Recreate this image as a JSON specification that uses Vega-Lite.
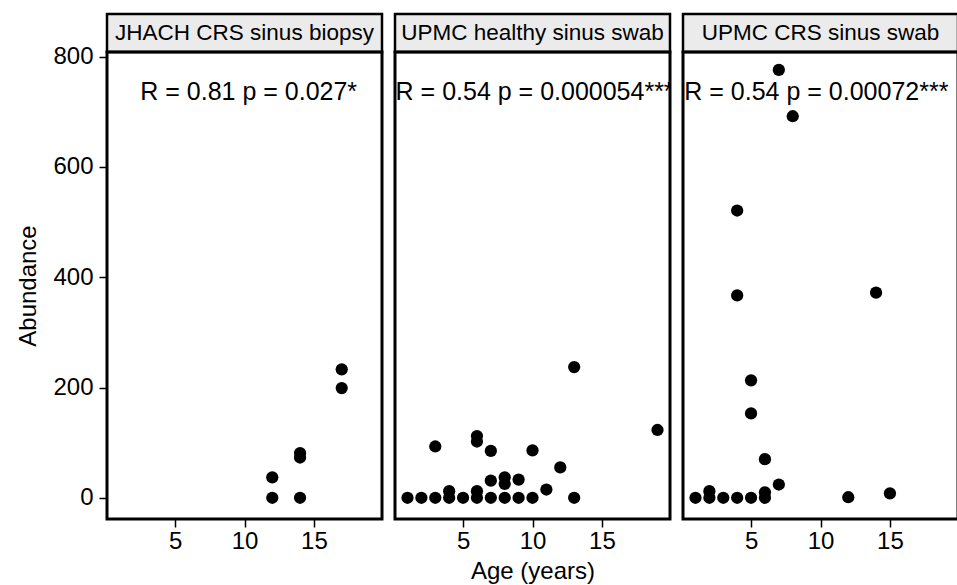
{
  "$schema": "https://vega.github.io/schema/vega-lite/v6.json",
  "autosize": {"type": "pad"},
  "padding": {"left": 15, "top": 12, "right": 0, "bottom": 0},
  "background": "white",
  "datasets": {
    "points": [
      {"panel": "JHACH CRS sinus biopsy", "age": 12, "abundance": 0},
      {"panel": "JHACH CRS sinus biopsy", "age": 12, "abundance": 37},
      {"panel": "JHACH CRS sinus biopsy", "age": 14, "abundance": 0},
      {"panel": "JHACH CRS sinus biopsy", "age": 14, "abundance": 73},
      {"panel": "JHACH CRS sinus biopsy", "age": 14, "abundance": 81},
      {"panel": "JHACH CRS sinus biopsy", "age": 17, "abundance": 199},
      {"panel": "JHACH CRS sinus biopsy", "age": 17, "abundance": 233},
      {"panel": "UPMC healthy sinus swab", "age": 1, "abundance": 0},
      {"panel": "UPMC healthy sinus swab", "age": 2, "abundance": 0},
      {"panel": "UPMC healthy sinus swab", "age": 3, "abundance": 0},
      {"panel": "UPMC healthy sinus swab", "age": 3, "abundance": 93},
      {"panel": "UPMC healthy sinus swab", "age": 4, "abundance": 0},
      {"panel": "UPMC healthy sinus swab", "age": 4, "abundance": 12},
      {"panel": "UPMC healthy sinus swab", "age": 5, "abundance": 0},
      {"panel": "UPMC healthy sinus swab", "age": 6, "abundance": 0},
      {"panel": "UPMC healthy sinus swab", "age": 6, "abundance": 12},
      {"panel": "UPMC healthy sinus swab", "age": 6, "abundance": 102},
      {"panel": "UPMC healthy sinus swab", "age": 6, "abundance": 112},
      {"panel": "UPMC healthy sinus swab", "age": 7, "abundance": 0},
      {"panel": "UPMC healthy sinus swab", "age": 7, "abundance": 31},
      {"panel": "UPMC healthy sinus swab", "age": 7, "abundance": 85},
      {"panel": "UPMC healthy sinus swab", "age": 8, "abundance": 0},
      {"panel": "UPMC healthy sinus swab", "age": 8, "abundance": 25},
      {"panel": "UPMC healthy sinus swab", "age": 8, "abundance": 37},
      {"panel": "UPMC healthy sinus swab", "age": 9, "abundance": 0},
      {"panel": "UPMC healthy sinus swab", "age": 9, "abundance": 33},
      {"panel": "UPMC healthy sinus swab", "age": 10, "abundance": 0},
      {"panel": "UPMC healthy sinus swab", "age": 10, "abundance": 86},
      {"panel": "UPMC healthy sinus swab", "age": 11, "abundance": 15},
      {"panel": "UPMC healthy sinus swab", "age": 12, "abundance": 55},
      {"panel": "UPMC healthy sinus swab", "age": 13, "abundance": 0},
      {"panel": "UPMC healthy sinus swab", "age": 13, "abundance": 237},
      {"panel": "UPMC healthy sinus swab", "age": 19, "abundance": 123},
      {"panel": "UPMC CRS sinus swab", "age": 1, "abundance": 0},
      {"panel": "UPMC CRS sinus swab", "age": 2, "abundance": 0},
      {"panel": "UPMC CRS sinus swab", "age": 2, "abundance": 12},
      {"panel": "UPMC CRS sinus swab", "age": 3, "abundance": 0},
      {"panel": "UPMC CRS sinus swab", "age": 4, "abundance": 0},
      {"panel": "UPMC CRS sinus swab", "age": 4, "abundance": 367},
      {"panel": "UPMC CRS sinus swab", "age": 4, "abundance": 521},
      {"panel": "UPMC CRS sinus swab", "age": 5, "abundance": 0},
      {"panel": "UPMC CRS sinus swab", "age": 5, "abundance": 153},
      {"panel": "UPMC CRS sinus swab", "age": 5, "abundance": 213},
      {"panel": "UPMC CRS sinus swab", "age": 6, "abundance": 0},
      {"panel": "UPMC CRS sinus swab", "age": 6, "abundance": 10},
      {"panel": "UPMC CRS sinus swab", "age": 6, "abundance": 70},
      {"panel": "UPMC CRS sinus swab", "age": 7, "abundance": 24},
      {"panel": "UPMC CRS sinus swab", "age": 7, "abundance": 776},
      {"panel": "UPMC CRS sinus swab", "age": 8, "abundance": 692},
      {"panel": "UPMC CRS sinus swab", "age": 12, "abundance": 1},
      {"panel": "UPMC CRS sinus swab", "age": 14, "abundance": 372},
      {"panel": "UPMC CRS sinus swab", "age": 15, "abundance": 8}
    ],
    "labels": [
      {"panel": "JHACH CRS sinus biopsy", "label": "R = 0.81 p = 0.027*", "x": 10.3, "y": 736},
      {"panel": "UPMC healthy sinus swab", "label": "R = 0.54 p = 0.000054***", "x": 10.15, "y": 736},
      {"panel": "UPMC CRS sinus swab", "label": "R = 0.54 p = 0.00072***", "x": 9.7, "y": 736}
    ]
  },
  "config": {
    "font": "Liberation Sans",
    "view": {"stroke": "black", "strokeWidth": 3},
    "axis": {
      "domain": false,
      "grid": false,
      "tickColor": "black",
      "tickSize": 8,
      "tickWidth": 1.5,
      "labelFont": "Liberation Sans",
      "labelFontSize": 24,
      "labelColor": "black",
      "titleFont": "Liberation Sans",
      "titleFontSize": 24,
      "titleFontWeight": "normal",
      "titleColor": "black"
    }
  },
  "spacing": 9,
  "hconcat": [
    {
      "bounds": "flush",
      "spacing": 0,
      "vconcat": [
        {
          "width": 275, "height": 38,
          "view": {"fill": "#ebebeb", "stroke": "black", "strokeWidth": 2.5},
          "data": {"name": "labels"},
          "transform": [{"filter": "datum.panel === 'JHACH CRS sinus biopsy'"}],
          "mark": {"type": "text", "fontSize": 22.5, "color": "black", "font": "Liberation Sans"},
          "encoding": {"text": {"field": "panel"}}
        },
        {
          "width": 275, "height": 467,
          "layer": [
            {
              "data": {"name": "points"},
              "transform": [{"filter": "datum.panel === 'JHACH CRS sinus biopsy'"}],
              "mark": {"type": "point", "filled": true, "size": 150, "color": "black", "opacity": 1},
              "encoding": {
                "x": {"field": "age", "type": "quantitative", "scale": {"domain": [0.1, 19.9], "nice": false, "zero": false},
                      "axis": {"values": [5, 10, 15], "title": null, "labelPadding": 2}},
                "y": {"field": "abundance", "type": "quantitative", "scale": {"domain": [-38.5, 808.5], "nice": false, "zero": false},
                      "axis": {"values": [0, 200, 400, 600, 800], "title": "Abundance", "labelPadding": 6, "titlePadding": 12}}
              }
            },
            {
              "data": {"name": "labels"},
              "transform": [{"filter": "datum.panel === 'JHACH CRS sinus biopsy'"}],
              "mark": {"type": "text", "fontSize": 25, "color": "black", "align": "center", "baseline": "middle", "clip": true},
              "encoding": {
                "x": {"field": "x", "type": "quantitative"},
                "y": {"field": "y", "type": "quantitative"},
                "text": {"field": "label"}
              }
            }
          ]
        }
      ]
    },
    {
      "bounds": "flush",
      "spacing": 0,
      "vconcat": [
        {
          "width": 275, "height": 38,
          "view": {"fill": "#ebebeb", "stroke": "black", "strokeWidth": 2.5},
          "data": {"name": "labels"},
          "transform": [{"filter": "datum.panel === 'UPMC healthy sinus swab'"}],
          "mark": {"type": "text", "fontSize": 22.5, "color": "black", "font": "Liberation Sans"},
          "encoding": {"text": {"field": "panel"}}
        },
        {
          "width": 275, "height": 467,
          "layer": [
            {
              "data": {"name": "points"},
              "transform": [{"filter": "datum.panel === 'UPMC healthy sinus swab'"}],
              "mark": {"type": "point", "filled": true, "size": 150, "color": "black", "opacity": 1},
              "encoding": {
                "x": {"field": "age", "type": "quantitative", "scale": {"domain": [0.1, 19.9], "nice": false, "zero": false},
                      "axis": {"values": [5, 10, 15], "title": "Age (years)", "labelPadding": 2, "titlePadding": 6}},
                "y": {"field": "abundance", "type": "quantitative", "scale": {"domain": [-38.5, 808.5], "nice": false, "zero": false},
                      "axis": null}
              }
            },
            {
              "data": {"name": "labels"},
              "transform": [{"filter": "datum.panel === 'UPMC healthy sinus swab'"}],
              "mark": {"type": "text", "fontSize": 25, "color": "black", "align": "center", "baseline": "middle", "clip": true},
              "encoding": {
                "x": {"field": "x", "type": "quantitative"},
                "y": {"field": "y", "type": "quantitative"},
                "text": {"field": "label"}
              }
            }
          ]
        }
      ]
    },
    {
      "bounds": "flush",
      "spacing": 0,
      "vconcat": [
        {
          "width": 275, "height": 38,
          "view": {"fill": "#ebebeb", "stroke": "black", "strokeWidth": 2.5},
          "data": {"name": "labels"},
          "transform": [{"filter": "datum.panel === 'UPMC CRS sinus swab'"}],
          "mark": {"type": "text", "fontSize": 22.5, "color": "black", "font": "Liberation Sans"},
          "encoding": {"text": {"field": "panel"}}
        },
        {
          "width": 275, "height": 467,
          "layer": [
            {
              "data": {"name": "points"},
              "transform": [{"filter": "datum.panel === 'UPMC CRS sinus swab'"}],
              "mark": {"type": "point", "filled": true, "size": 150, "color": "black", "opacity": 1},
              "encoding": {
                "x": {"field": "age", "type": "quantitative", "scale": {"domain": [0.1, 19.9], "nice": false, "zero": false},
                      "axis": {"values": [5, 10, 15], "title": null, "labelPadding": 2}},
                "y": {"field": "abundance", "type": "quantitative", "scale": {"domain": [-38.5, 808.5], "nice": false, "zero": false},
                      "axis": null}
              }
            },
            {
              "data": {"name": "labels"},
              "transform": [{"filter": "datum.panel === 'UPMC CRS sinus swab'"}],
              "mark": {"type": "text", "fontSize": 25, "color": "black", "align": "center", "baseline": "middle", "clip": true},
              "encoding": {
                "x": {"field": "x", "type": "quantitative"},
                "y": {"field": "y", "type": "quantitative"},
                "text": {"field": "label"}
              }
            }
          ]
        }
      ]
    }
  ]
}
